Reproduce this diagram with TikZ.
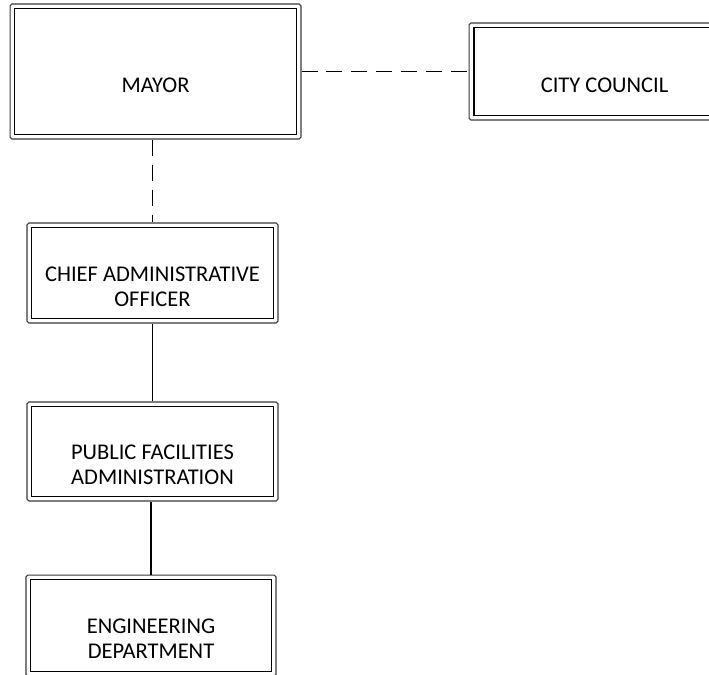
\documentclass[tikz,border=0pt]{standalone}
\usepackage{fontspec}
\setmainfont{Carlito}
\usepackage{xcolor}
\definecolor{orgink}{HTML}{000000}
\definecolor{orgrim}{HTML}{3A3A3A}

\begin{document}
\begin{tikzpicture}[x=0.02cm, y=-0.02cm,
  unit/.style={draw=orgrim, line width=0.6pt, rounded corners=1pt, fill=white, inner sep=0pt,
    path picture={\draw[orgink, line width=1.1pt, sharp corners]
      ([shift={(0.09cm,-0.09cm)}]path picture bounding box.north west) rectangle
      ([shift={(-0.09cm,0.09cm)}]path picture bounding box.south east);}},
  unitlabel/.style={align=center, yshift=-0.27cm, text=orgink,
    font=\fontsize{12.8}{14.2}\selectfont},
  link/.style={orgink, line width=1.1pt},
  dashlink/.style={link, dash pattern=on 0.32cm off 0.18cm}]

%% page frame, the council box runs past the right edge
\clip (0,0) rectangle (709,674);
\fill[white] (0,0) rectangle (709,674);

%% ==== top row: mayor and council ====
\node[unit, minimum width=5.82cm, minimum height=2.7cm,
      label={[unitlabel]center:MAYOR}] (mayor) at (155.5,71.5) {};
\node[unit, minimum width=5.42cm, minimum height=1.94cm,
      label={[unitlabel]center:CITY COUNCIL}] (council) at (604.5,71.5) {};

%% ==== chain of offices below the mayor ====
\node[unit, minimum width=5.02cm, minimum height=2.0cm,
      label={[unitlabel]center:{CHIEF ADMINISTRATIVE\\OFFICER}}] (cao) at (152.5,273) {};
\node[unit, minimum width=5.02cm, minimum height=1.98cm,
      label={[unitlabel]center:{PUBLIC FACILITIES\\ADMINISTRATION}}] (pfa) at (152.5,451.5) {};
\node[unit, minimum width=5.0cm, minimum height=2.02cm,
      label={[unitlabel]center:{ENGINEERING\\DEPARTMENT}}] (eng) at (151,625.5) {};

%% advisory links (dashed)
\draw[dashlink] (mayor.east) -- (council.west);
\draw[dashlink] (cao.north |- mayor.south) -- (cao.north);

%% line of command (solid)
\draw[link] (cao.south) -- (pfa.north);
\draw[link] (eng.north |- pfa.south) -- (eng.north);

\end{tikzpicture}
\end{document}
